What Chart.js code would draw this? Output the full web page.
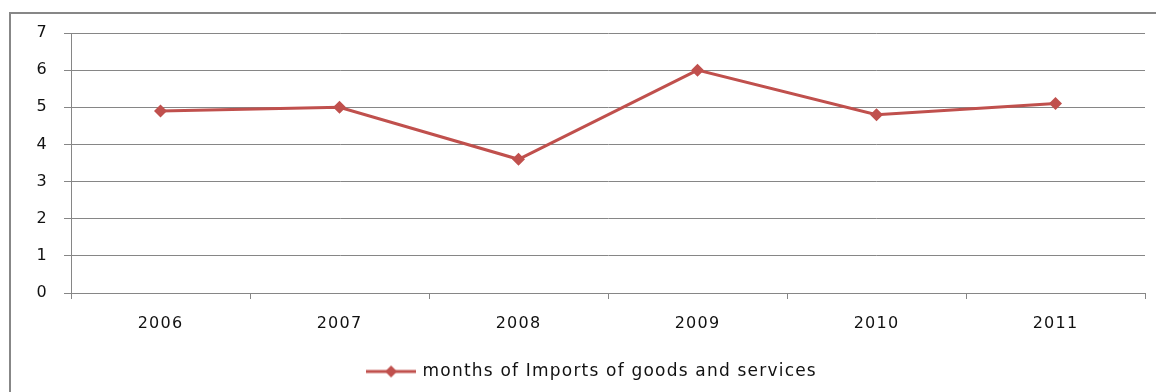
<!DOCTYPE html>
<html>
<head>
<meta charset="utf-8">
<script src="https://cdn.jsdelivr.net/npm/chart.js@4/dist/chart.umd.min.js"></script>
<style>
  html, body { margin: 0; padding: 0; background: #fff; }
  #wrap { position: relative; width: 1156px; height: 392px; }
  #frame { position: absolute; left: 9px; top: 12px; right: 0; bottom: 0;
           border-top: 2px solid #878787; border-left: 2px solid #878787; }
  canvas { position: absolute; left: 0; top: 0; }
</style>
</head>
<body>
<div id="wrap">
  <div id="frame"></div>
  <canvas id="myLineChart" width="1156" height="392"></canvas>
</div>
<script>
// chart values
let years = ['2006', '2007', '2008', '2009', '2010', '2011'];
let monthsOfImports = [4.9, 5.0, 3.6, 6.0, 4.8, 5.1];
let yTicks = [0, 1, 2, 3, 4, 5, 6, 7];
let seriesName = 'months of Imports of goods and services';

const red = '#C0504D';
const gray = '#868686';

// small legend symbol: line with a diamond in the middle
function legendSymbol() {
  const c = document.createElement('canvas');
  c.width = 50;
  c.height = 14;
  const g = c.getContext('2d');
  g.strokeStyle = red;
  g.lineWidth = 3;
  g.beginPath();
  g.moveTo(0, 7);
  g.lineTo(50, 7);
  g.stroke();
  g.fillStyle = red;
  g.beginPath();
  g.moveTo(25, 1);
  g.lineTo(31, 7);
  g.lineTo(25, 13);
  g.lineTo(19, 7);
  g.closePath();
  g.fill();
  return c;
}

// the original text is set wider, so add a bit of letter spacing,
// and its legend sits a little right of centre
const tweaks = {
  id: 'tweaks',
  beforeLayout(chart) { chart.ctx.letterSpacing = '1.2px'; },
  afterLayout(chart) {
    chart.legend.left += 20;
    chart.legend.right += 20;
  },
  beforeDraw(chart) { chart.ctx.letterSpacing = '1.2px'; }
};

document.addEventListener('DOMContentLoaded', function() {
  const symbol = legendSymbol();
  var ctx = document.getElementById('myLineChart').getContext('2d');

  var myLineChart = new Chart(ctx, {
    type: 'line',
    plugins: [tweaks],
    data: {
      labels: years,
      datasets: [{
        label: seriesName,
        data: monthsOfImports,
        borderColor: red,
        backgroundColor: red,
        borderWidth: 3,
        pointStyle: 'rectRot',
        pointRadius: 6.5,
        pointBorderWidth: 0,
        pointBackgroundColor: red,
        fill: false,
        tension: 0
      }]
    },
    options: {
      responsive: false,
      animation: false,
      layout: { padding: { left: 0, right: 11, top: 33, bottom: 2 } },
      plugins: {
        tooltip: { enabled: false },
        legend: {
          position: 'bottom',
          labels: {
            usePointStyle: true,
            pointStyleWidth: 46,
            padding: 10,
            color: '#111',
            font: { family: 'DejaVu Sans', size: 17 },
            generateLabels: function(chart) {
              return [{
                text: seriesName,
                pointStyle: symbol,
                fillStyle: red,
                strokeStyle: red,
                lineWidth: 0,
                datasetIndex: 0,
                fontColor: '#111'
              }];
            }
          }
        }
      },
      scales: {
        x: {
          offset: true,
          grid: {
            offset: true,
            drawOnChartArea: false,
            color: gray,
            tickLength: 6
          },
          border: { color: gray, width: 1 },
          ticks: {
            padding: 15,
            color: '#111',
            font: { family: 'DejaVu Sans', size: 16 }
          },
          afterFit: function(scale) { scale.height = 60; }
        },
        y: {
          min: 0,
          max: 7,
          afterBuildTicks: function(scale) {
            scale.ticks = yTicks.map(v => ({ value: v }));
          },
          grid: { color: gray, tickLength: 7 },
          border: { color: gray, width: 1 },
          ticks: {
            padding: 16,
            color: '#111',
            font: { family: 'DejaVu Sans', size: 16 }
          },
          afterFit: function(scale) { scale.width = 71; }
        }
      }
    }
  });
});
</script>
</body>
</html>
